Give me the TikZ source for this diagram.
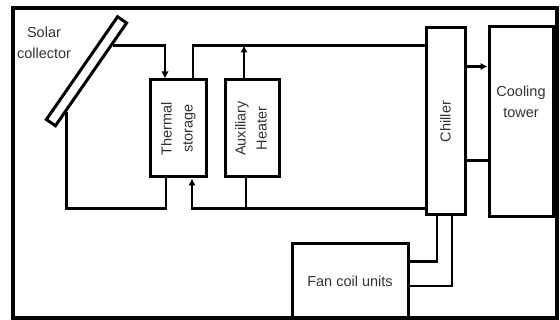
\documentclass[tikz,border=0pt]{standalone}
\usepackage{fontspec}
\setmainfont{Liberation Sans}
\usetikzlibrary{calc,arrows.meta}
\definecolor{txtgray}{HTML}{333333}
\tikzset{
  box/.style={draw, line width=3pt, fill=white, inner sep=0pt, text=txtgray},
  pipe/.style={line width=2.7pt},
  flow/.style={pipe, -{Latex[length=7pt,width=7.5pt]}}
}
\begin{document}
\begin{tikzpicture}[x=1pt, y=-1pt, font=\fontsize{14.5}{21}\selectfont]
  \useasboundingbox (0,0) rectangle (560,320);
  \draw[line width=4.5pt] (13,8) rectangle (557,318);

  % Components
  \node[box, minimum width=125, minimum height=11, rotate=55.3] (sc) at (86.5,71.25) {};
  \node[text=txtgray, align=center] (sclabel) at (44,43) {Solar\\collector};
  \node[box, minimum width=56, minimum height=97] (ts) at (178,128.5)
    {\rotatebox{90}{\begin{tabular}{@{}c@{}}Thermal\\storage\end{tabular}}};
  \node[box, minimum width=54, minimum height=97] (ah) at (252,128.5)
    {\rotatebox{90}{\begin{tabular}{@{}c@{}}Auxiliary\\Heater\end{tabular}}};
  \node[box, minimum width=39, minimum height=187] (ch) at (445.5,121.5)
    {\rotatebox{90}{Chiller}};
  \node[box, minimum width=64, minimum height=190] (ct) at (521,122) {};
  \node[text=txtgray, align=center] (ctlabel) at ([yshift=20]ct.center) {Cooling\\tower};
  \node[box, minimum width=116, minimum height=74] (fcu) at (350,281) {Fan coil units};

  \coordinate (scA) at ($(sc.south)!0.56!(sc.south east)$);
  \coordinate (scB) at ($(sc.south)!0.7!(sc.south west)$);
  \coordinate (sup) at ($(ts.north)+(15,-33)$);
  \coordinate (ret) at ($(ts.south)+(14,30)$);

  % Collector loop
  \draw[flow] (scA) -| ([xshift=-13]ts.north);
  \draw[pipe] (scB) |- ($(ts.south)+(-12,30)$) -- ([xshift=-12]ts.south);

  % Supply and return
  \draw[pipe] ([xshift=15]ts.north) -- (sup) -- (ch.west |- sup);
  \draw[flow] ([xshift=-8]ah.north) -- ([xshift=-8]ah.north |- sup);
  \draw[flow] (ch.west |- ret) -- (ret) -- ([xshift=14]ts.south);
  \draw[pipe] ([xshift=-6]ah.south) -- ([xshift=-6]ah.south |- ret);

  % Cooling tower
  \draw[flow] ([yshift=55]ch.east) -- ([yshift=55]ch.east -| ct.west);
  \draw[pipe] ([yshift=-39]ch.east) -- ([yshift=-39]ch.east -| ct.west);

  % Fan coil units
  \draw[pipe] ([xshift=-8.5]ch.south) |- ([yshift=19.5]fcu.east);
  \draw[pipe] ([xshift=6.5]ch.south) |- ([yshift=-5]fcu.east);
\end{tikzpicture}
\end{document}
